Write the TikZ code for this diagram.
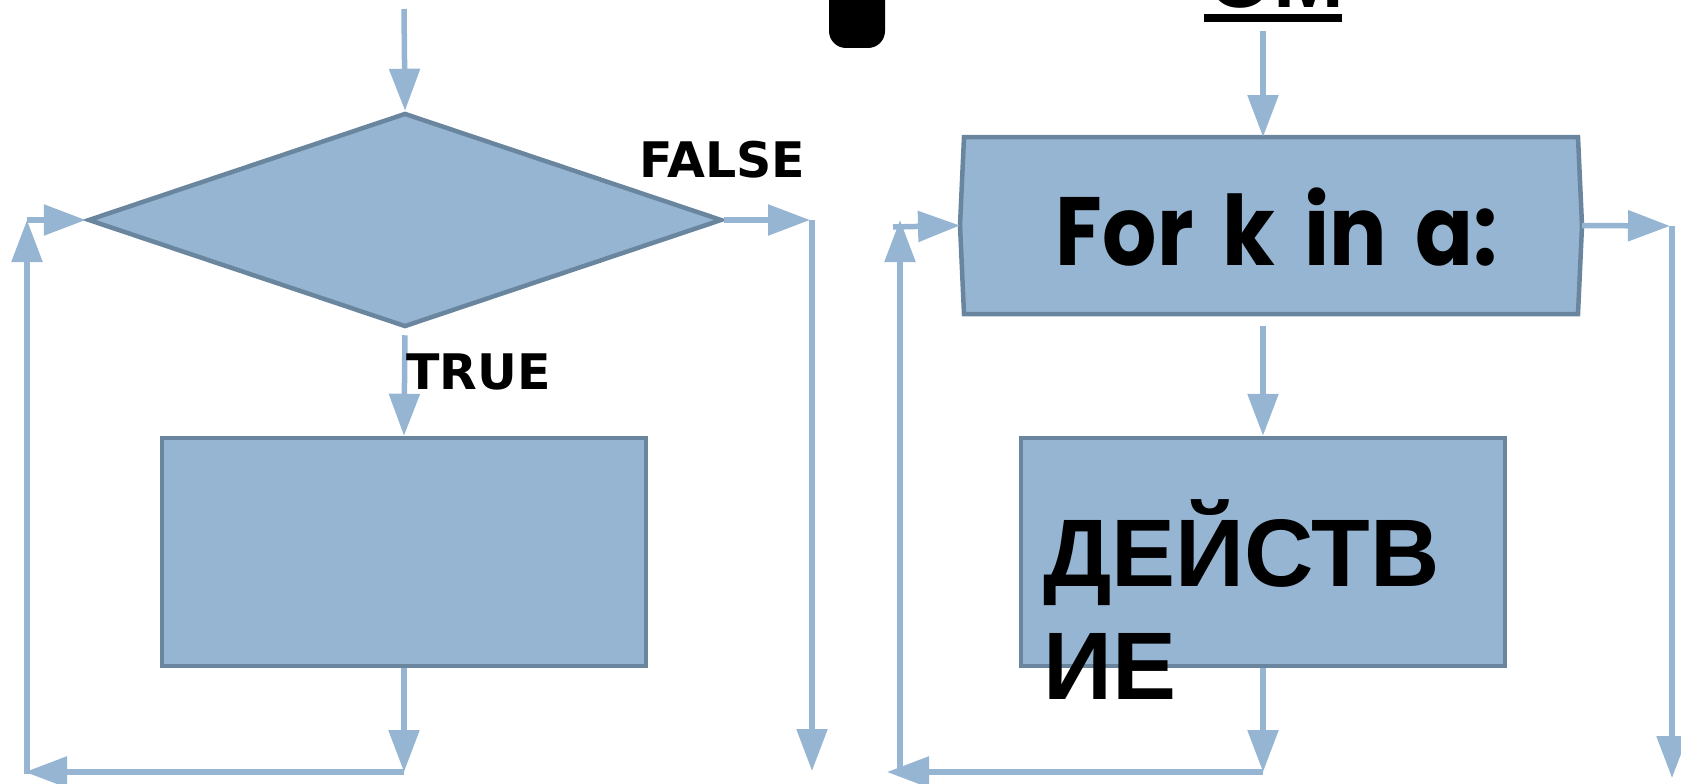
\documentclass[tikz,border=0pt]{standalone}
\usepackage{fontspec}
\newfontfamily\dvs{DejaVu Sans}
\newfontfamily\lsans{Liberation Sans}
\newfontfamily\popf{Poppins}[WordSpace=1.6]
\usetikzlibrary{shapes.geometric,arrows.meta}
\definecolor{fillc}{RGB}{149,181,210}
\definecolor{edgec}{RGB}{106,134,159}
\definecolor{linec}{RGB}{149,181,210}
\begin{document}
\begin{tikzpicture}[x=1pt,y=-1pt,
  conn/.style={draw=linec,line width=5.5pt,-{Triangle[length=42pt,width=30pt]}},
  box/.style={draw=edgec,fill=fillc,line width=4.5pt,rectangle,inner sep=0pt,minimum width=484pt,minimum height=228pt},
  lbl/.style={inner sep=0pt,anchor=base west},
  dlabel/.style={lbl,font=\dvs\bfseries\fontsize{49}{49}\selectfont}]
\useasboundingbox (0,0) rectangle (1681,784);
\begin{scope}
\clip (0,0) rectangle (1681,784);
% shapes
\node[diamond,draw=edgec,fill=fillc,line width=4.5pt,minimum width=634pt,minimum height=214pt,inner sep=0pt] (dec) at (405,220) {};
\node[box] (act1) at (404,552) {};
\node[box] (act2) at (1263,552) {};
\node[rectangle,minimum width=614pt,minimum height=177pt,inner sep=0pt,outer sep=0pt] (hex) at (1271,225.5) {};
\coordinate (hexW) at ([xshift=-4pt]hex.west);
\coordinate (hexE) at ([xshift=4pt]hex.east);
\filldraw[fill=fillc,draw=edgec,line width=4.5pt,line join=miter] (hex.north west) -- (hex.north east) -- (hexE) -- (hex.south east) -- (hex.south west) -- (hexW) -- cycle;
% left connectors
\coordinate (tA) at (404,9);
\draw[conn] (tA) -- (dec.north);
\draw[conn,shorten <=6pt] (dec.south) -- (act1.north);
\coordinate (lb) at (404,772);
\draw[conn] (act1.south) -- (lb);
\coordinate (ll) at (25,772);
\draw[conn] (lb) -- (ll);
\coordinate (lbot) at (27,774);
\coordinate (ltop) at (27,220);
\draw[conn] (lbot) -- (ltop);
\draw[conn] (ltop) -- (dec.west);
\coordinate (fr) at (810,220);
\draw[conn] (dec.east) -- (fr);
\coordinate (fr2) at (812,220);
\coordinate (fb) at (812,771);
\draw[conn] (fr2) -- (fb);
% right connectors
\coordinate (tB) at (1263,31);
\draw[conn] (tB) -- (tB |- hex.north);
\draw[conn,shorten <=12pt] (act2.north |- hex.south) -- (act2.north);
\coordinate (rb) at (1263,772);
\draw[conn] (act2.south) -- (rb);
\coordinate (rl) at (887,772);
\draw[conn] (rb) -- (rl);
\coordinate (rlb) at (900,770);
\coordinate (rlt) at (900,220);
\draw[conn] (rlb) -- (rlt);
\coordinate (rin) at (893,227);
\draw[conn] (rin) -- (hexW);
\coordinate (re) at (1670,226);
\draw[conn] (hexE) -- (re);
\coordinate (re2) at (1672,226);
\coordinate (reb) at (1672,778);
\draw[conn] (re2) -- (reb);
% top fragments
\fill[black,rounded corners=17pt] (829,-40) rectangle (885,48);
\node[lbl,font=\lsans\bfseries\fontsize{85}{85}\selectfont] (ttl) at (1207,7.5) {ОМ};
\fill[black] (1204,14) rectangle (1342,22);
% labels
\node[dlabel] (lfalse) at (639,177) {FALSE};
\node[dlabel] (ltrue) at (406,389) {TRUE};
\node[inner sep=0pt,anchor=base,font=\popf\bfseries\fontsize{97}{97}\selectfont] (lfor) at (1277,265) {\scalebox{0.88}[1]{For k in a:}};
\node[lbl,align=left,font=\lsans\bfseries\fontsize{96}{113}\selectfont] (lact) at (1043,699) {ДЕЙСТВ\\ИЕ};
\end{scope}
\end{tikzpicture}
\end{document}
